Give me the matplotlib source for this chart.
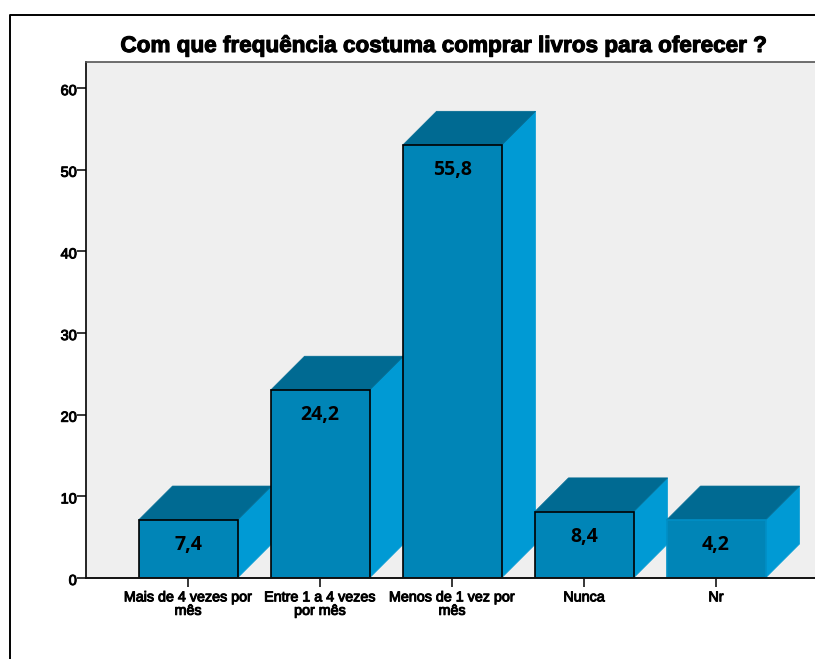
import matplotlib
matplotlib.use("Agg")
import matplotlib.pyplot as plt
import matplotlib.patheffects as pe
from matplotlib.lines import Line2D
from matplotlib.transforms import ScaledTranslation

categories = ["Mais de 4 vezes por\nmês", "Entre 1 a 4 vezes\npor mês", "Menos de 1 vez por\nmês", "Nunca", "Nr"]
heights = [7.1, 23.0, 53.0, 8.1, 7.1]
labels = ["7,4", "24,2", "55,8", "8,4", "4,2"]
outlined = [True, True, True, True, False]
yticks = [0, 10, 20, 30, 40, 50, 60]
title = "Com que frequência costuma comprar livros para oferecer ?"

W, H = 815, 659
FRONT, SIDE, TOP, BG = "#0085B7", "#009AD4", "#006A92", "#EFEFEF"

plt.rcParams["font.family"] = ["Liberation Sans", "DejaVu Sans"]
fig = plt.figure(figsize=(W / 100, H / 100), dpi=100)
L, R, T, B = 86, 815, 62, 578
ax = fig.add_axes([L / W, 1 - B / H, (R - L) / W, (B - T) / H])
ax.set_facecolor(BG)
ax.set_xlim(-0.773, 4.75)
ax.set_ylim(0, 63.2)

bw = 0.75
dx = 34 / 132
dy = 34 / 8.167
for i, h in enumerate(heights):
    x0, x1 = i - bw / 2, i + bw / 2
    ax.fill([x1, x1 + dx, x1 + dx, x1], [0, dy, h + dy, h], color=SIDE, lw=0.5, zorder=2)
    ax.fill([x0, x1, x1 + dx, x0 + dx], [h, h, h + dy, h + dy], color=TOP, lw=0.5, zorder=2)
    ec = "black" if outlined[i] else "#008FC6"
    ax.bar(i, h, bw, color=FRONT, edgecolor=ec, linewidth=1.2, zorder=3)
    ax.text(i, h - 3.05, labels[i], ha="center", va="center", fontsize=14, fontweight="bold",
            family=["Open Sans", "DejaVu Sans"], color="black", zorder=4)

thick = [pe.withStroke(linewidth=0.7, foreground="black")]
ax.set_xticks(range(len(categories)))
ax.set_xticklabels(categories, fontsize=10.3, linespacing=0.95, path_effects=thick)
ax.set_yticks(yticks)
ax.set_yticklabels([str(v) for v in yticks], fontsize=10.5, path_effects=thick)
ax.tick_params(axis="x", length=6.5, width=1.1, pad=2.4)
ax.tick_params(axis="y", length=6.5, width=1.1, pad=0)
shift = ScaledTranslation(0, -1.5 / 100, fig.dpi_scale_trans)
for t in ax.get_yticklabels():
    t.set_transform(t.get_transform() + shift)
ax.spines["right"].set_visible(False)
for s, c, w in (("left", "black", 1.2), ("bottom", "#111111", 1.4), ("top", "#555555", 1.2)):
    ax.spines[s].set_color(c)
    ax.spines[s].set_linewidth(w)
    ax.spines[s].set_zorder(5)

fig.text(443.5 / W, 1 - 46.5 / H, title, ha="center", va="center", fontsize=16.2, fontweight="bold",
         path_effects=[pe.withStroke(linewidth=0.8, foreground="black")])

fig.add_artist(Line2D([9.5 / W, 9.5 / W, 1], [0, 1 - 15 / H, 1 - 15 / H], color="black", lw=1.4))
fig.savefig("out.png", dpi=100)
